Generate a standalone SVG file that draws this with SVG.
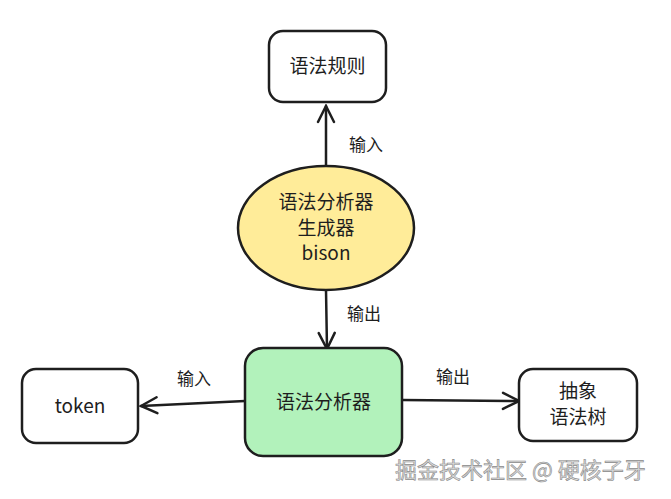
<svg xmlns="http://www.w3.org/2000/svg" width="671" height="499" viewBox="0 0 671 499">
<defs>
<style>
.box{stroke:#1e1e1e;stroke-width:2.5;fill:#ffffff}
.t{font-family:"Noto Sans CJK SC","Noto Sans",sans-serif;font-size:19px;fill:#1e1e1e;text-anchor:middle}
.lbl{font-family:"Noto Sans CJK SC","Noto Sans",sans-serif;font-size:17px;fill:#1e1e1e;text-anchor:middle}
.line{stroke:#1e1e1e;stroke-width:2.5;fill:none;stroke-linecap:round}
.wm{font-family:"Noto Sans CJK SC",sans-serif;font-size:22px;fill:#dcdcdc;stroke:#8a8a8a;stroke-width:0.6}
</style>
<marker id="ah" viewBox="0 0 20 20" refX="18" refY="10" markerWidth="20" markerHeight="20" markerUnits="userSpaceOnUse" orient="auto">
<path d="M2,2 L18,10 L2,18" fill="none" stroke="#1e1e1e" stroke-width="2.5" stroke-linecap="round"/>
</marker>
</defs>
<rect width="671" height="499" fill="#ffffff"/>
<g id="connectors">
<line class="line" x1="326" y1="166" x2="326" y2="106" marker-end="url(#ah)"/>
<line class="line" x1="326" y1="290" x2="327" y2="349" marker-end="url(#ah)"/>
<line class="line" x1="245" y1="401" x2="141" y2="406" marker-end="url(#ah)"/>
<line class="line" x1="402" y1="400" x2="519" y2="401" marker-end="url(#ah)"/>
<text class="lbl" x="366" y="151">输入</text>
<text class="lbl" x="364" y="320">输出</text>
<text class="lbl" x="194" y="385">输入</text>
<text class="lbl" x="453" y="383">输出</text>
</g>
<g id="rules">
<rect class="box" x="269" y="31" width="117" height="71" rx="14"/>
<text class="t" x="327.5" y="73">语法规则</text>
</g>
<g id="generator">
<ellipse cx="326" cy="228" rx="88" ry="62" fill="#ffec99" stroke="#1e1e1e" stroke-width="2.5"/>
<text class="t" x="326" y="209">语法分析器</text>
<text class="t" x="326" y="235">生成器</text>
<text class="t" x="326" y="260">bison</text>
</g>
<g id="parser">
<rect x="245" y="348" width="157" height="108" rx="18" fill="#b2f2bb" stroke="#1e1e1e" stroke-width="2.5"/>
<text class="t" x="323.5" y="409">语法分析器</text>
</g>
<g id="token">
<rect class="box" x="22" y="369" width="116" height="74" rx="14"/>
<text class="t" x="80" y="413">token</text>
</g>
<g id="ast">
<rect class="box" x="519" y="369" width="118" height="72" rx="14"/>
<text class="t" x="578" y="398">抽象</text>
<text class="t" x="578" y="424">语法树</text>
</g>
<text class="wm" x="395" y="478">掘金技术社区 @ 硬核子牙</text>
</svg>
